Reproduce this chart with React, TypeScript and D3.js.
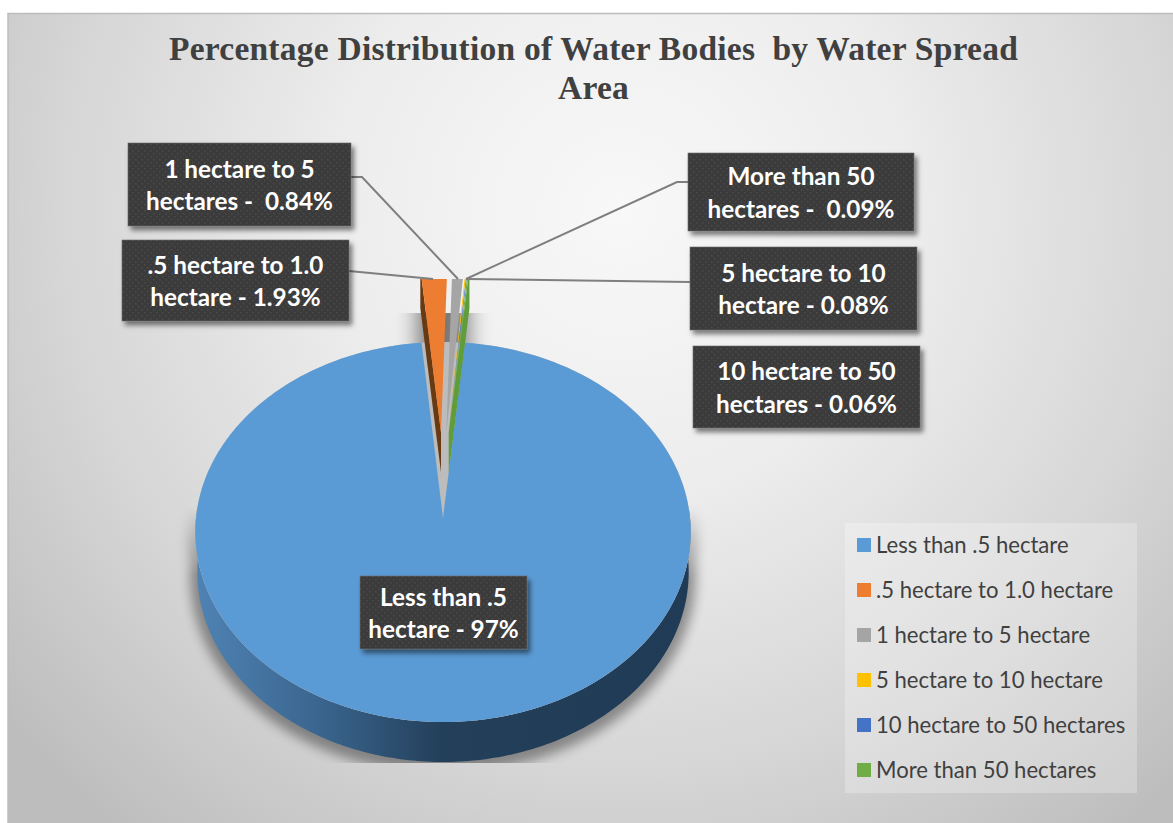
import React from "react";
import * as d3 from "d3";

const categories = ["Less than .5 hectare", ".5 hectare to 1.0 hectare", "1 hectare to 5 hectare", "5 hectare to 10 hectare", "10 hectare to 50 hectares", "More than 50 hectares"];
const values = [97, 1.93, 0.84, 0.08, 0.06, 0.09];
const colors = ["#5B9BD5", "#ED7D31", "#A5A5A5", "#FFC000", "#4472C4", "#70AD47"];
const wallColors = ["#23405c", "#683a14", "#8a8a8a", "#b88a00", "#2f5090", "#5f9c3a"];
const titleLines = ["Percentage Distribution of Water Bodies  by Water Spread", "Area"];
const labelLines = [
  ["Less than .5", "hectare - 97%"],
  [".5 hectare to 1.0", "hectare - 1.93%"],
  ["1 hectare to 5", "hectares -  0.84%"],
  ["5 hectare to 10", "hectare - 0.08%"],
  ["10 hectare to 50", "hectares - 0.06%"],
  ["More than 50", "hectares -  0.09%"],
];
const labelBoxes = [
  [360, 576, 527, 649],
  [122, 240, 349, 321],
  [128, 143, 351, 226],
  [690, 247, 917, 330],
  [693, 346, 920, 428],
  [688, 153, 914, 231],
];
const leaders: [number, number][][] = [
  [[349, 271], [433, 279]],
  [[351, 177], [362, 177], [458, 279]],
  [[690, 282], [466, 279]],
  [[688, 182], [677, 182], [466, 279]],
];

const W = 1173, H = 823;
const CX = 443, R = 247, DEPTH = 40, EXPLODE = 0.47, EXPLODE_X = 0.55;
const FIRST_ANGLE = 0.095;
// perspective projection of the pie's unit disk onto the page
const A = 150.8, B = 518, C = -0.0737;
const project = (x: number, y: number, drop = 0, shrink = 1): [number, number] => {
  const d = C * y + 1;
  return [CX + (x * R * shrink) / d, (A * y + B) / d + drop];
};
const polar = (a: number, r = 1): [number, number] => [Math.sin(a) * r, -Math.cos(a) * r];
const line = d3.line();
const pie = d3.pie<number>().sort(null).startAngle(FIRST_ANGLE).endAngle(FIRST_ANGLE + Math.PI * 2)(values);

const sweep = (a0: number, a1: number, n: number) => d3.range(n + 1).map((i) => a0 + ((a1 - a0) * i) / n);

function blueFace(): string {
  const s = pie[0];
  const pts = sweep(s.startAngle, s.endAngle, 360).map((a) => {
    const [x, y] = polar(a);
    return project(x, y);
  });
  return line([project(0, 0), ...pts])! + "Z";
}
function fullEllipse(drop: number, shrink: number): string {
  return line(sweep(0, Math.PI * 2, 240).map((a) => { const [x, y] = polar(a); return project(x, y, drop, shrink); }))! + "Z";
}
function outerWall(): string {
  const top = sweep(Math.PI / 2 - 0.05, Math.PI * 1.5 + 0.05, 200).map((a) => { const [x, y] = polar(a); return project(x, y); });
  const bot = sweep(Math.PI * 1.5 + 0.05, Math.PI / 2 - 0.05, 200).map((a) => { const [x, y] = polar(a); return project(x, y, DEPTH, 0.992); });
  return line([...top, ...bot])! + "Z";
}
function sliceGeom(i: number) {
  const s = pie[i];
  const mid = (s.startAngle + s.endAngle) / 2;
  const [ex, ey] = polar(mid, EXPLODE);
  const ox = ex * EXPLODE_X, oy = ey;
  const pt = (a: number, r: number, drop = 0) => { const [x, y] = polar(a, r); return project(x + ox, y + oy, drop); };
  return { s, pt };
}
function sliceFace(i: number): string {
  const { s, pt } = sliceGeom(i);
  const arc = sweep(s.startAngle, s.endAngle, 12).map((a) => pt(a, 1));
  return line([pt(0, 0), ...arc])! + "Z";
}
function sliceSideWall(i: number, edge: "start" | "end"): string {
  const { s, pt } = sliceGeom(i);
  const a = edge === "start" ? s.startAngle : s.endAngle;
  return line([pt(a, 0), pt(a, 1), pt(a, 1, DEPTH), pt(a, 0, DEPTH)])! + "Z";
}

export default function App() {
  const fontSans = "Lato, 'Open Sans', sans-serif";
  return (
    <svg width={W} height={H} viewBox={`0 0 ${W} ${H}`} style={{ position: "absolute", left: 0, top: 0, display: "block", background: "#fff" }}>
      <defs>
        <radialGradient id="bg" gradientUnits="userSpaceOnUse" cx={620} cy={210} r={800}>
          <stop offset="0" stopColor="#f8f8f8" />
          <stop offset="0.35" stopColor="#ededed" />
          <stop offset="0.7" stopColor="#d6d6d6" />
          <stop offset="1" stopColor="#bdbdbd" />
        </radialGradient>
        <linearGradient id="wall" gradientUnits="userSpaceOnUse" x1={196} x2={691} y1={0} y2={0}>
          <stop offset="0" stopColor="#4f83b4" />
          <stop offset="0.25" stopColor="#3a658e" />
          <stop offset="0.5" stopColor="#233f5a" />
          <stop offset="1" stopColor="#203b55" />
        </linearGradient>
        <linearGradient id="fadeGrad" gradientUnits="userSpaceOnUse" x1={0} x2={0} y1={505} y2={575}>
          <stop offset="0" stopColor="#000" />
          <stop offset="1" stopColor="#fff" />
        </linearGradient>
        <mask id="fade" maskUnits="userSpaceOnUse" x={0} y={0} width={W} height={H}>
          <rect x={0} y={0} width={W} height={H} fill="url(#fadeGrad)" />
        </mask>
        <pattern id="dots" width={6} height={6} patternUnits="userSpaceOnUse">
          <rect width={6} height={6} fill="#3b3b3b" />
          <rect x={0} y={0} width={1.5} height={1.5} fill="#4b4b4b" />
          <rect x={3} y={3} width={1.5} height={1.5} fill="#4b4b4b" />
        </pattern>
        <filter id="blur10" filterUnits="userSpaceOnUse" x={100} y={300} width={700} height={520}><feGaussianBlur stdDeviation={6} /></filter>
        <filter id="blur12" x="-100%" y="-100%" width="300%" height="300%"><feGaussianBlur stdDeviation={11} /></filter>
        <filter id="boxShadow" x="-10%" y="-10%" width="125%" height="130%">
          <feDropShadow dx={3} dy={4} stdDeviation={2.5} floodColor="#000" floodOpacity={0.5} />
        </filter>
        <clipPath id="plotClip"><rect x={0} y={279} width={W} height={H} /></clipPath>
        <clipPath id="shadowClip"><rect x={150} y={313} width={600} height={450} /></clipPath>
      </defs>
      <rect x={8} y={13} width={W - 8} height={H - 13} fill="url(#bg)" />
      <path d={`M8 823V13.5H${W}`} fill="none" stroke="#bdbdbd" strokeWidth={1.5} />

      {titleLines.map((t, i) => (
        <text key={i} x={593.5} y={60 + i * 39} textAnchor="middle" fontFamily="'Liberation Serif', serif" fontWeight={700} fontSize={33.5} letterSpacing={0.24} fill="#404040" style={{ whiteSpace: "pre" }}>{t}</text>
      ))}

      <g clipPath="url(#shadowClip)">
        <g mask="url(#fade)">
          <path d={outerWall()} fill="#000" stroke="#000" strokeWidth={14} strokeLinejoin="round" opacity={0.38} filter="url(#blur10)" transform="translate(0,4)" />
        </g>
        <rect x={418} y={290} width={50} height={90} fill="#000" opacity={0.5} filter="url(#blur12)" />
      </g>

      <path d={outerWall()} fill="url(#wall)" />
      <path d={fullEllipse(0, 1)} fill="#bcbcbc" />
      <path d={blueFace()} fill={colors[0]} />

      <g clipPath="url(#plotClip)">
        <path d={sliceSideWall(1, "start")} fill={wallColors[1]} />
        <path d={sliceSideWall(5, "end")} fill={wallColors[5]} />
        {pie.slice(1).map((_, k) => (
          <path key={k} d={sliceFace(k + 1)} fill={colors[k + 1]} />
        ))}
      </g>

      {leaders.map((pts, i) => (
        <path key={i} d={line(pts)!} fill="none" stroke="#7f7f7f" strokeWidth={2} />
      ))}

      {labelBoxes.map(([x0, y0, x1, y1], i) => (
        <g key={i}>
          <rect x={x0} y={y0} width={x1 - x0} height={y1 - y0} fill="url(#dots)" stroke="#6a6a6a" strokeWidth={0.6} filter="url(#boxShadow)" />
          {labelLines[i].map((t, j) => (
            <text key={j} x={(x0 + x1) / 2} y={(y0 + y1) / 2 - 7 + j * 32.5} textAnchor="middle" fontFamily={fontSans} fontWeight={700} fontSize={24.3} fill="#fff" style={{ whiteSpace: "pre" }}>{t}</text>
          ))}
        </g>
      ))}

      <rect x={845} y={523} width={292} height={270} fill="#fff" opacity={0.25} />
      {categories.map((c, i) => (
        <g key={i}>
          <rect x={857} y={538 + i * 45} width={14} height={14} fill={colors[i]} />
          <text x={876} y={552.5 + i * 45} fontFamily={fontSans} fontSize={22.1} fill="#404040">{c}</text>
        </g>
      ))}
    </svg>
  );
}
